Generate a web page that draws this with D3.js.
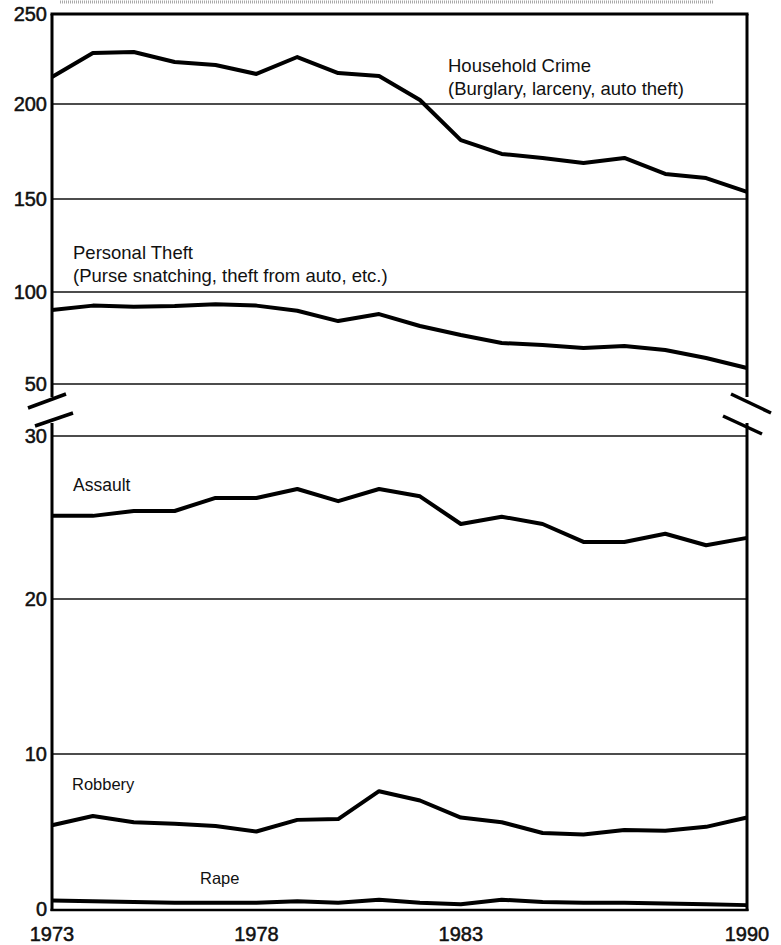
<!DOCTYPE html>
<html>
<head>
<meta charset="utf-8">
<script src="https://cdn.jsdelivr.net/npm/d3@7"></script>
<style>
  body { margin: 0; background: #fff; }
  svg { display: block; }
  .tick-label { font-family: "Liberation Sans", Arial, sans-serif; font-size: 20px; fill: #111; stroke: #111; stroke-width: 0.5px; }
  .series-label { font-family: "Liberation Sans", Arial, sans-serif; fill: #111; }
</style>
</head>
<body>
<div id="chart"></div>
<script>
// years on the x axis
var years = d3.range(1973, 1991);
var xTickYears = [1973, 1978, 1983, 1990];

// upper panel (rates 50-250)
var upperTicks = [250, 200, 150, 100, 50];
var household = [215, 228.3, 228.9, 223.3, 221.7, 216.7, 226.1, 217.2, 215.6, 202.2,
                 181, 173.7, 171.6, 168.9, 171.6, 163.2, 161, 153.7];
var personalTheft = [90.2, 92.6, 92, 92.4, 93.3, 92.6, 89.8, 84.2, 88, 81.5,
                     76.6, 72.3, 71.2, 69.6, 70.7, 68.5, 64.1, 58.7];

// lower panel (rates 0-30)
var lowerTicks = [30, 20, 10, 0];
var assault = [25.1, 25.1, 25.4, 25.4, 26.2, 26.2, 26.75, 26.0, 26.75, 26.3,
               24.6, 25.05, 24.6, 23.5, 23.5, 24.0, 23.3, 23.75];
var robbery = [5.4, 6.0, 5.6, 5.5, 5.35, 5.0, 5.75, 5.8, 7.6, 7.0,
               5.9, 5.6, 4.9, 4.8, 5.1, 5.05, 5.3, 5.9];
var rape = [0.55, 0.5, 0.45, 0.4, 0.4, 0.4, 0.5, 0.4, 0.6, 0.4,
            0.3, 0.6, 0.45, 0.4, 0.4, 0.35, 0.3, 0.25];

var width = 781, height = 945;

var svg = d3.select("#chart")
            .append("svg")
            .attr("width", width)
            .attr("height", height);

var x = d3.scaleLinear().domain([1973, 1990]).range([52, 747]);
// hand drawn axis, spacing is not quite even so use polylinear scales
var yTop = d3.scaleLinear().domain([50, 100, 150, 200, 250]).range([384, 292, 199, 104, 14]);
var yBot = d3.scaleLinear().domain([0, 10, 20, 30]).range([909, 754, 599, 436]);

// scan artefact band at the very top
svg.append("line")
   .attr("x1", 60).attr("x2", 713)
   .attr("y1", 2).attr("y2", 2)
   .attr("stroke", "#aaa")
   .attr("stroke-width", 3)
   .attr("stroke-dasharray", "1,1");

// gridlines
var grid = svg.append("g");
grid.selectAll(".gu")
    .data(upperTicks.filter(d => d != 250))
    .enter().append("line")
    .attr("x1", x(1973)).attr("x2", x(1990))
    .attr("y1", d => yTop(d)).attr("y2", d => yTop(d))
    .attr("stroke", "#111").attr("stroke-width", 1.3);
grid.selectAll(".gl")
    .data(lowerTicks.filter(d => d != 0))
    .enter().append("line")
    .attr("x1", x(1973)).attr("x2", x(1990))
    .attr("y1", d => yBot(d)).attr("y2", d => yBot(d))
    .attr("stroke", "#111").attr("stroke-width", 1.3);

// frame: top, bottom, broken left and right sides
var frame = svg.append("g").attr("stroke", "#000").attr("fill", "none");
frame.append("line")
     .attr("x1", x(1973) - 1.5).attr("x2", x(1990) + 1.5)
     .attr("y1", yTop(250)).attr("y2", yTop(250))
     .attr("stroke-width", 3);
frame.append("line")
     .attr("x1", x(1973) - 1.5).attr("x2", x(1990) + 1.5)
     .attr("y1", yBot(0) + 1).attr("y2", yBot(0) + 1)
     .attr("stroke-width", 2.5);
[x(1973), x(1990)].forEach(function(xx){
    frame.append("line")
         .attr("x1", xx).attr("x2", xx)
         .attr("y1", yTop(250)).attr("y2", yTop(50) + 13)
         .attr("stroke-width", 3);
    frame.append("line")
         .attr("x1", xx).attr("x2", xx)
         .attr("y1", yBot(30) - 13).attr("y2", yBot(0) + 2)
         .attr("stroke-width", 3);
});

// break marks
var gapMid = (yTop(50) + yBot(30)) / 2;
var breaks = [
    [x(1973) - 24, gapMid - 2, x(1973) + 14, gapMid - 16],
    [x(1973) - 17, gapMid + 16, x(1973) + 21, gapMid + 3],
    [x(1990) - 16, gapMid - 16, x(1990) + 24, gapMid + 3],
    [x(1990) - 24, gapMid + 6, x(1990) + 15, gapMid + 24]
];
frame.selectAll(".brk")
     .data(breaks)
     .enter().append("line")
     .attr("x1", d => d[0]).attr("y1", d => d[1])
     .attr("x2", d => d[2]).attr("y2", d => d[3])
     .attr("stroke-width", 3.5);

// data lines
function drawLine(values, yScale){
    var line = d3.line()
                 .x((d, i) => x(years[i]))
                 .y(d => yScale(d));
    svg.append("path")
       .datum(values)
       .attr("d", line)
       .attr("fill", "none")
       .attr("stroke", "#000")
       .attr("stroke-width", 4)
       .attr("stroke-linejoin", "round");
}
drawLine(household, yTop);
drawLine(personalTheft, yTop);
drawLine(assault, yBot);
drawLine(robbery, yBot);
drawLine(rape, yBot);

// y tick labels
svg.selectAll(".yu")
   .data(upperTicks)
   .enter().append("text")
   .attr("class", "tick-label")
   .attr("x", 47)
   .attr("y", d => yTop(d) + 7)
   .attr("text-anchor", "end")
   .text(d => d);
svg.selectAll(".yl")
   .data(lowerTicks)
   .enter().append("text")
   .attr("class", "tick-label")
   .attr("x", 47)
   .attr("y", d => yBot(d) + 7)
   .attr("text-anchor", "end")
   .text(d => d);

// x tick labels
svg.selectAll(".xl")
   .data(xTickYears)
   .enter().append("text")
   .attr("class", "tick-label")
   .attr("x", d => x(d))
   .attr("y", 941)
   .attr("text-anchor", "middle")
   .text(d => d);

// series labels
var labels = [
    {lines: ["Household Crime", "(Burglary, larceny, auto theft)"], x: 448, y: 72, size: 18.5},
    {lines: ["Personal Theft", "(Purse snatching, theft from auto, etc.)"], x: 73, y: 259, size: 18.5},
    {lines: ["Assault"], x: 73, y: 491, size: 17.5},
    {lines: ["Robbery"], x: 72, y: 790, size: 16.5},
    {lines: ["Rape"], x: 200, y: 884, size: 16.5}
];
labels.forEach(function(l){
    var t = svg.append("text")
               .attr("class", "series-label")
               .attr("font-size", l.size)
               .attr("x", l.x)
               .attr("y", l.y);
    l.lines.forEach(function(s, i){
        t.append("tspan")
         .attr("x", l.x)
         .attr("dy", i == 0 ? 0 : 23)
         .text(s);
    });
});
</script>
</body>
</html>
